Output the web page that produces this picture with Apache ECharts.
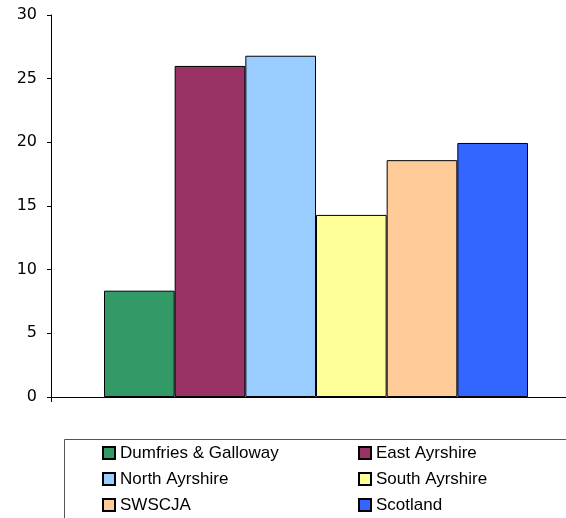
<!DOCTYPE html>
<html>
<head>
<meta charset="utf-8">
<script src="https://cdn.jsdelivr.net/npm/echarts@6/dist/echarts.min.js"></script>
<style>html,body{margin:0;padding:0;background:#fff;}#c{width:566px;height:518px;}</style>
</head>
<body>
<div id="c"></div>
<script>
const areas = ['Dumfries & Galloway', 'East Ayrshire', 'North Ayrshire', 'South Ayrshire', 'SWSCJA', 'Scotland'];
const values = [8.35, 26.0, 26.8, 14.3, 18.6, 19.95];
const colors = ['#339966', '#993366', '#99CCFF', '#FFFF99', '#FFCC99', '#3366FF'];
const yTicks = [0, 5, 10, 15, 20, 25, 30];

const chart = echarts.init(document.getElementById('c'), null, {renderer: 'canvas'});
const legendText = {fontFamily: 'Liberation Sans, Arial, sans-serif', fontSize: 17, color: '#000', lineHeight: 20};
chart.setOption({
  animation: false,
  backgroundColor: '#fff',
  grid: {left: 51, top: 15, bottom: 121, width: 530, containLabel: false, outerBoundsMode: 'none'},
  xAxis: {
    type: 'category', data: [''],
    axisLine: {show: true, lineStyle: {color: '#000', width: 1}},
    axisTick: {show: true, length: 5, lineStyle: {color: '#000'}},
    axisLabel: {show: false},
    splitLine: {show: false}
  },
  yAxis: {
    type: 'value', min: yTicks[0], max: yTicks[yTicks.length - 1], interval: 5,
    axisLine: {show: true, lineStyle: {color: '#000', width: 1}},
    axisTick: {show: true, length: 4, lineStyle: {color: '#000'}},
    axisLabel: {margin: 14, fontFamily: 'DejaVu Sans, Verdana, sans-serif', fontSize: 16, color: '#000'},
    splitLine: {show: false}
  },
  legend: [
    {
      data: [areas[0], areas[2], areas[4]], orient: 'vertical', left: 102, top: 443,
      itemWidth: 12, itemHeight: 12, itemGap: 6, icon: 'rect', textStyle: legendText, padding: 0
    },
    {
      data: [areas[1], areas[3], areas[5]], orient: 'vertical', left: 358, top: 443,
      itemWidth: 12, itemHeight: 12, itemGap: 6, icon: 'rect', textStyle: legendText, padding: 0
    }
  ],
  graphic: [{
    type: 'rect', left: 62, top: 437, silent: true,
    shape: {width: 520, height: 100},
    style: {fill: 'none', stroke: '#555', lineWidth: 1}
  }],
  series: areas.map((name, i) => ({
    name: name, type: 'bar', data: [values[i]],
    barGap: '0%', barCategoryGap: '20%',
    itemStyle: {color: colors[i], borderColor: '#000', borderWidth: 1}
  }))
});
</script>
</body>
</html>
